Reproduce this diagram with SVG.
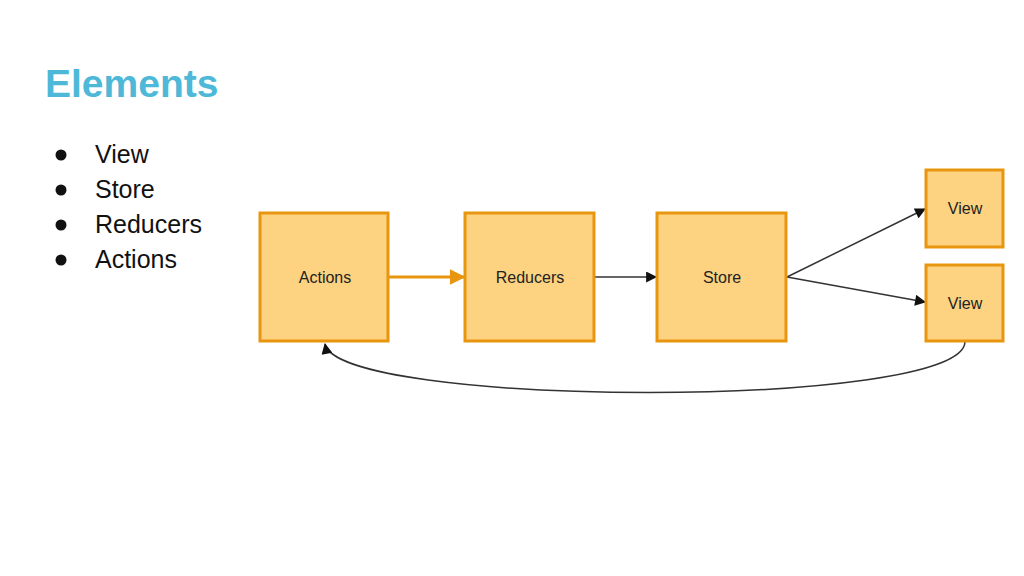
<svg xmlns="http://www.w3.org/2000/svg" width="1024" height="576" viewBox="0 0 1024 576">
<style>
.box{fill:#fdd280;stroke:#e8950f;stroke-width:3}
.lbl{font-family:"Liberation Sans",Arial,sans-serif;font-size:16px;fill:#222;text-anchor:middle}
.bul{font-family:"Liberation Sans",Arial,sans-serif;font-size:25px;fill:#111}
.edge{fill:none;stroke:#333;stroke-width:1.5}
</style>
<defs>
<marker id="ah" viewBox="0 0 10 10" refX="9" refY="5" markerWidth="12" markerHeight="11" markerUnits="userSpaceOnUse" orient="auto"><path d="M0,0 L10,5 L0,10 z" fill="#111"/></marker>
<marker id="aho" viewBox="0 0 10 10" refX="9" refY="5" markerWidth="16" markerHeight="16" markerUnits="userSpaceOnUse" orient="auto"><path d="M0,0 L10,5 L0,10 z" fill="#e8950f"/></marker>
</defs>
<rect width="1024" height="576" fill="#fff"/>
<text x="45" y="97" font-family="Liberation Sans,Arial,sans-serif" font-weight="bold" font-size="39" fill="#4db8d8">Elements</text>
<g id="bullets">
<circle cx="61" cy="155" r="5.5" fill="#111"/><text class="bul" x="95" y="163">View</text>
<circle cx="61" cy="190" r="5.5" fill="#111"/><text class="bul" x="95" y="198">Store</text>
<circle cx="61" cy="225" r="5.5" fill="#111"/><text class="bul" x="95" y="233">Reducers</text>
<circle cx="61" cy="260" r="5.5" fill="#111"/><text class="bul" x="95" y="268">Actions</text>
</g>
<g id="connectors">
<line x1="389" y1="277" x2="464" y2="277" stroke="#e8950f" stroke-width="3" marker-end="url(#aho)"/>
<line class="edge" x1="595" y1="277" x2="656" y2="277" marker-end="url(#ah)"/>
<line class="edge" x1="787" y1="277" x2="925" y2="209" marker-end="url(#ah)"/>
<line class="edge" x1="787" y1="277" x2="925" y2="302" marker-end="url(#ah)"/>
<path class="edge" d="M965,342 C962,410 338,408 325,344" marker-end="url(#ah)"/>
</g>
<g id="actions"><rect class="box" x="260" y="213" width="128" height="128"/><text class="lbl" x="325" y="283">Actions</text></g>
<g id="reducers"><rect class="box" x="465" y="213" width="129" height="128"/><text class="lbl" x="530" y="283">Reducers</text></g>
<g id="store"><rect class="box" x="657" y="213" width="129" height="128"/><text class="lbl" x="722" y="283">Store</text></g>
<g id="view1"><rect class="box" x="926" y="170" width="77" height="77"/><text class="lbl" x="965" y="214">View</text></g>
<g id="view2"><rect class="box" x="926" y="265" width="77" height="76"/><text class="lbl" x="965" y="309">View</text></g>
</svg>
